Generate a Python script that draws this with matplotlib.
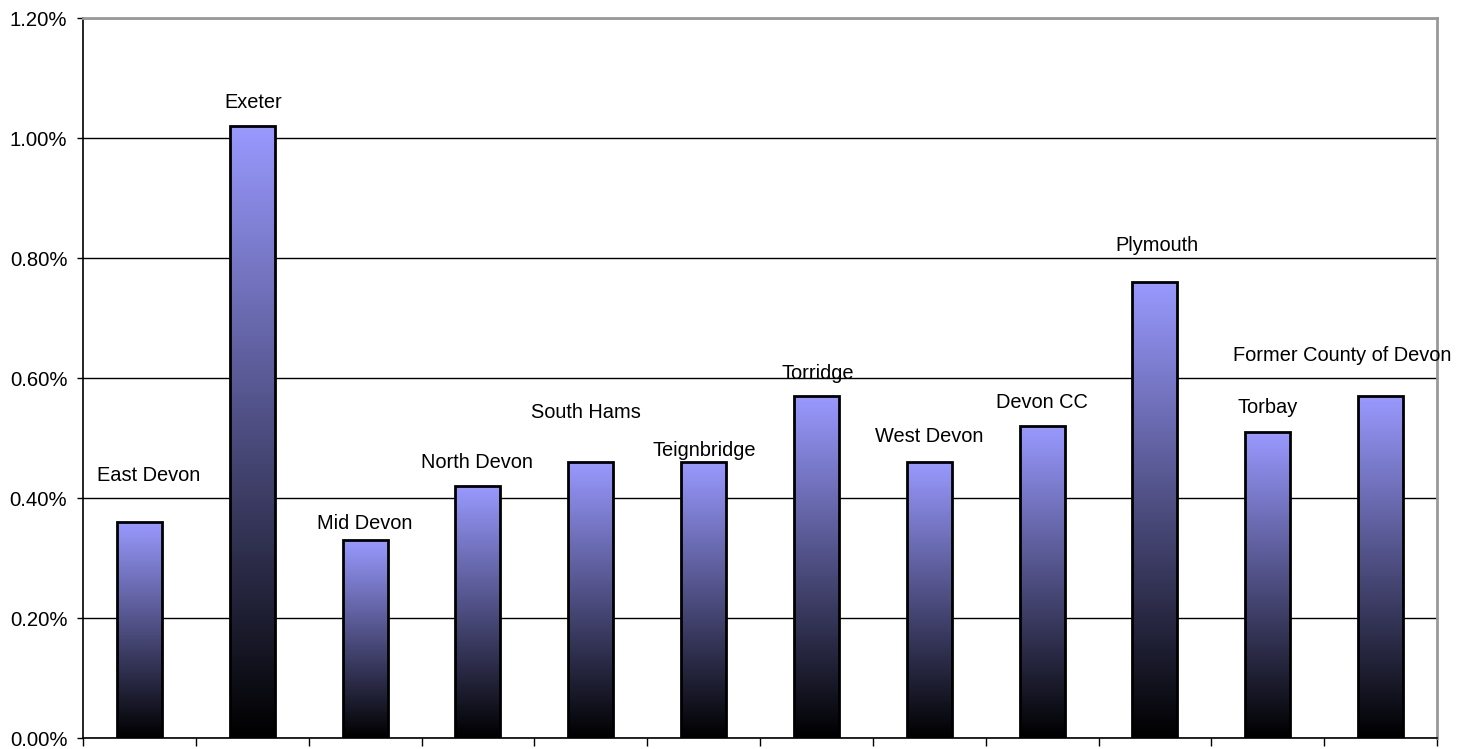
import numpy as np
import matplotlib
matplotlib.use("Agg")
import matplotlib.pyplot as plt
from matplotlib.colors import LinearSegmentedColormap
from matplotlib.ticker import PercentFormatter

# data
areas = ['East Devon', 'Exeter', 'Mid Devon', 'North Devon', 'South Hams', 'Teignbridge',
         'Torridge', 'West Devon', 'Devon CC', 'Plymouth', 'Torbay', 'Former County of Devon']
rates = [0.0036, 0.0102, 0.0033, 0.0042, 0.0046, 0.0046,
         0.0057, 0.0046, 0.0052, 0.0076, 0.0051, 0.0057]
yticks = [0.0, 0.002, 0.004, 0.006, 0.008, 0.010, 0.012]

# label placement (offsets from bar centre / bar top, the labels were hand-placed)
label_dx = [0.08, 0.01, 0.0, -0.01, -0.04, 0.01, 0.01, 0.0, 0.0, 0.02, 0.0, -0.34]
label_dy = [0.00077, 0.00040, 0.00027, 0.00040, 0.00082, 0.00020,
            0.00038, 0.00042, 0.00040, 0.00060, 0.00040, 0.00068]

plt.rcParams['font.family'] = ['Liberation Sans', 'DejaVu Sans']
plt.rcParams['font.size'] = 14.4

fig = plt.figure(figsize=(14.71, 7.49), dpi=100)
ax = fig.add_axes([83 / 1471, 11 / 749, (1437 - 83) / 1471, (738 - 18) / 749])

cmap = LinearSegmentedColormap.from_list('bar_grad', ['#000000', '#9999ff'])
grad = np.linspace(0, 1, 256).reshape(-1, 1)

x = np.arange(len(areas))
width = 0.4
bars = ax.bar(x, rates, width=width, facecolor='none', edgecolor='black',
              linewidth=2, zorder=3)

# gradient fill, each bar goes from black at the base to lilac at its own top
for b in bars:
    x0, h = b.get_x(), b.get_height()
    ax.imshow(grad, extent=[x0, x0 + b.get_width(), 0, h], origin='lower',
              aspect='auto', cmap=cmap, zorder=2, interpolation='bilinear')

for i, (name, v) in enumerate(zip(areas, rates)):
    ax.text(x[i] + label_dx[i], v + label_dy[i], name, ha='center', va='center',
            fontsize=14.4, zorder=4, clip_on=False)

ax.set_xlim(-0.5, len(areas) - 0.5)
ax.set_ylim(0, 0.012)
ax.set_yticks(yticks)
ax.yaxis.set_major_formatter(PercentFormatter(xmax=1.0, decimals=2))
ax.set_xticks(np.arange(-0.5, len(areas), 1))
ax.set_xticklabels([])
ax.tick_params(axis='x', direction='out', length=5.5, width=1, color='black')
ax.tick_params(axis='y', direction='out', length=4.3, width=1, color='black',
               labelsize=14.6, pad=7)

ax.grid(axis='y', color='black', linewidth=1, zorder=1)
ax.set_axisbelow(True)

for side in ['top', 'right']:
    ax.spines[side].set_color('#999999')
    ax.spines[side].set_linewidth(2)
for side in ['left', 'bottom']:
    ax.spines[side].set_color('black')
    ax.spines[side].set_linewidth(1.2)

fig.savefig('out.png', dpi=100, facecolor='white')
